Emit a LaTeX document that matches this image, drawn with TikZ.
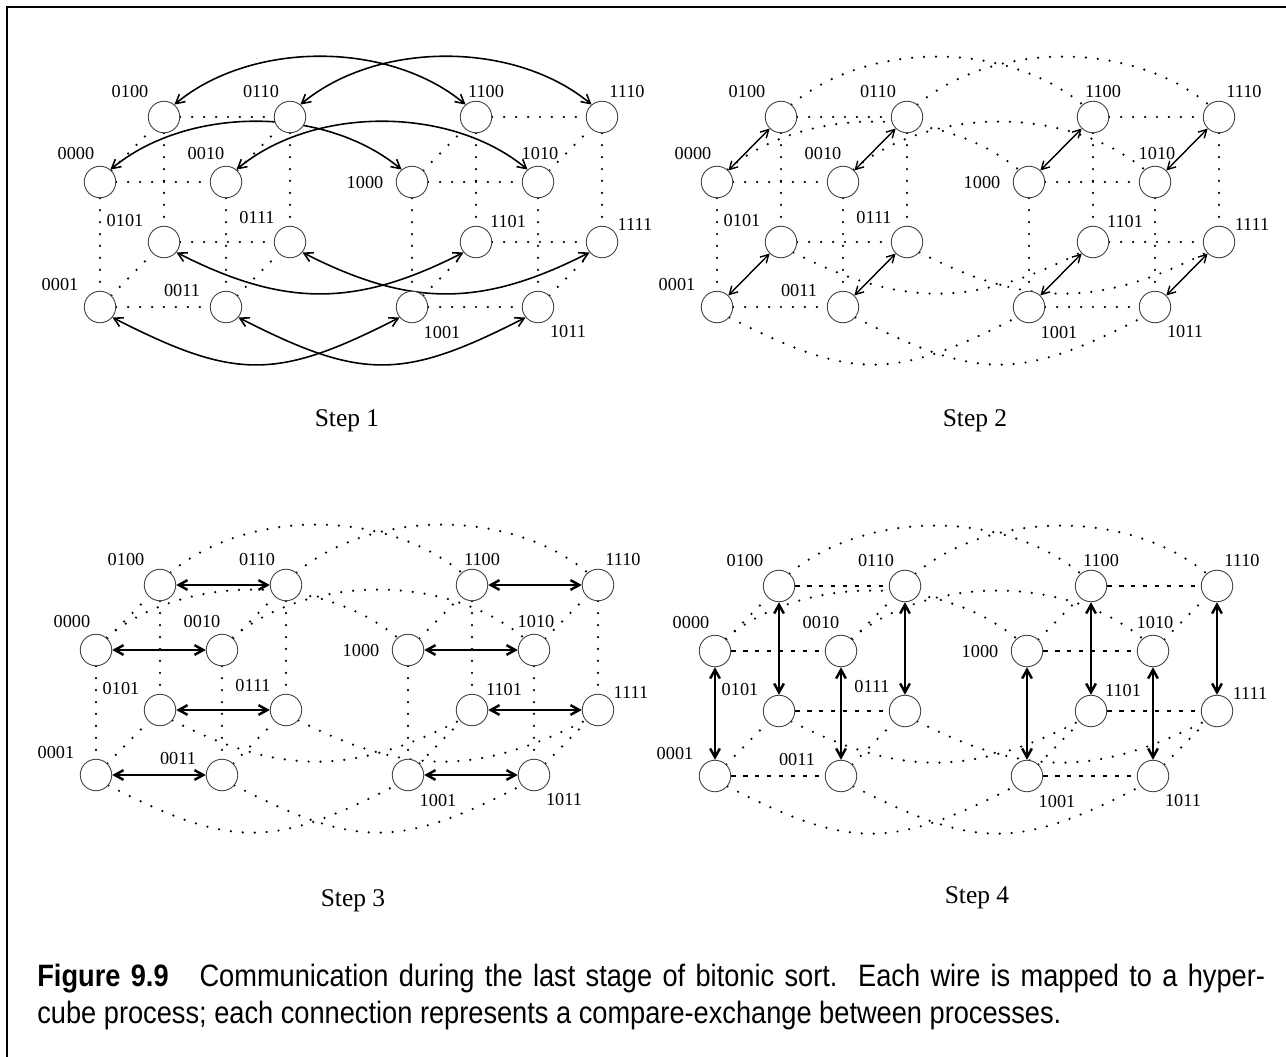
\documentclass[tikz,border=0pt]{standalone}
\usepackage{fontspec}
\setmainfont{Liberation Serif}
\newfontfamily\capfont[FakeStretch=0.88]{Liberation Sans}
\usepackage{tikz}
\usetikzlibrary{arrows.meta, backgrounds}

\tikzset{
  proc/.style={circle, draw=black!75, line width=0.5pt, fill=white, minimum size=0.63cm, inner sep=0pt},
  lab/.style={font=\fontsize{10.4}{12}\selectfont, inner sep=0pt},
  steplab/.style={font=\fontsize{14.5}{16}\selectfont, inner sep=0pt},
  caption/.style={anchor=base west, inner sep=0pt, font=\capfont\fontsize{17.6}{20}\selectfont},
  dotline/.style={line width=1.4pt, line cap=round, dash pattern=on 0pt off 6.8pt},
  dashline/.style={line width=1.6pt, dash pattern=on 2.5pt off 4.3pt},
  arcarr/.style={<->, >={Straight Barb[length=5pt,width=5.5pt]}, line width=0.9pt},
  thinarr/.style={<->, >={Straight Barb[length=4.5pt,width=5pt]}, line width=0.8pt},
  thickarr/.style={<->, >={Straight Barb[length=5pt,width=5.5pt]}, line width=1.4pt}
}

% 16 processes of one step, #1 prefix, #2/#3 position of 0000
\newcommand\PlaceCube[3]{%
  \foreach \nm/\px/\py/\qx/\qy in {0000/0/0/-24/-28, 0010/126/0/-20/-28, 0100/64/-65/-34/-25, 0110/190/-65/-29/-25,
      0001/0/125/-40/-22, 0011/126/125/-44/-16, 0101/64/60/-39/-21, 0111/190/60/-33/-24,
      1000/312/0/-47/1, 1010/438/0/2/-28, 1100/376/-65/10/-25, 1110/502/-65/25/-25,
      1001/312/125/30/26, 1011/438/125/30/25, 1101/376/60/32/-20, 1111/502/60/33/-18}{
    \node[proc] (#1\nm) at (#2+\px, #3+\py) {};
    \node[lab] (#1\nm-l) at (#2+\px+\qx, #3+\py+\qy) {\nm};
  }}

% wires, #2 vertical, #3 horizontal, #4 depth, #5 between the two cubes
\newcommand\CubeEdges[5]{%
  \foreach \src/\dst in {0000/0001,0010/0011,0100/0101,0110/0111,1000/1001,1010/1011,1100/1101,1110/1111}
    \draw[#2] (#1\src) -- (#1\dst);
  \foreach \src/\dst in {0000/0010,0001/0011,0100/0110,0101/0111,1000/1010,1001/1011,1100/1110,1101/1111}
    \draw[#3] (#1\src) -- (#1\dst);
  \foreach \src/\dst in {0000/0100,0010/0110,0001/0101,0011/0111,1000/1100,1010/1110,1001/1101,1011/1111}
    \draw[#4] (#1\src) -- (#1\dst);
  \foreach \src/\dst in {0100/1100,0110/1110,0000/1000,0010/1010}
    \draw[#5] (#1\src.50) .. controls +(77,-64) and +(-77,-64) .. (#1\dst.130);
  \foreach \src/\dst in {0101/1101,0111/1111}
    \draw[#5] (#1\src.-40) .. controls +(108,55) and +(-108,55) .. (#1\dst.-140);
  \foreach \src/\dst in {0001/1001,0011/1011}
    \draw[#5] (#1\src.-40) .. controls +(123,63) and +(-123,63) .. (#1\dst.-140);
}

\begin{document}
\begin{tikzpicture}[x=0.02cm, y=-0.02cm]
\useasboundingbox (0,0) rectangle (1286,1057);
\draw[line width=1.7pt] (7,1057) -- (7,7) -- (1286,7);

\PlaceCube{a}{100}{182}
\PlaceCube{b}{717}{182}
\PlaceCube{c}{96}{650}
\PlaceCube{d}{715}{651}

\begin{scope}[on background layer]
  \CubeEdges{a}{dotline}{dotline}{dotline}{arcarr}
  \CubeEdges{b}{dotline}{dotline}{thinarr}{dotline}
  \CubeEdges{c}{dotline}{thickarr}{dotline}{dotline}
  \CubeEdges{d}{thickarr}{dashline}{dotline}{dotline}
\end{scope}

\node[steplab] (s1) at (347,421) {Step 1};
\node[steplab] (s2) at (975,421) {Step 2};
\node[steplab] (s3) at (353,901) {Step 3};
\node[steplab] (s4) at (977,898) {Step 4};

\node[caption] (capA) at (37,986)
  {\makebox[24.56cm][s]{{\bfseries Figure 9.9}\hspace{1em}Communication during the last stage of bitonic sort.\ \ Each wire is mapped to a hyper-}};
\node[caption] (capB) at (37,1023)
  {cube process; each connection represents a compare-exchange between processes.};
\end{tikzpicture}
\end{document}
